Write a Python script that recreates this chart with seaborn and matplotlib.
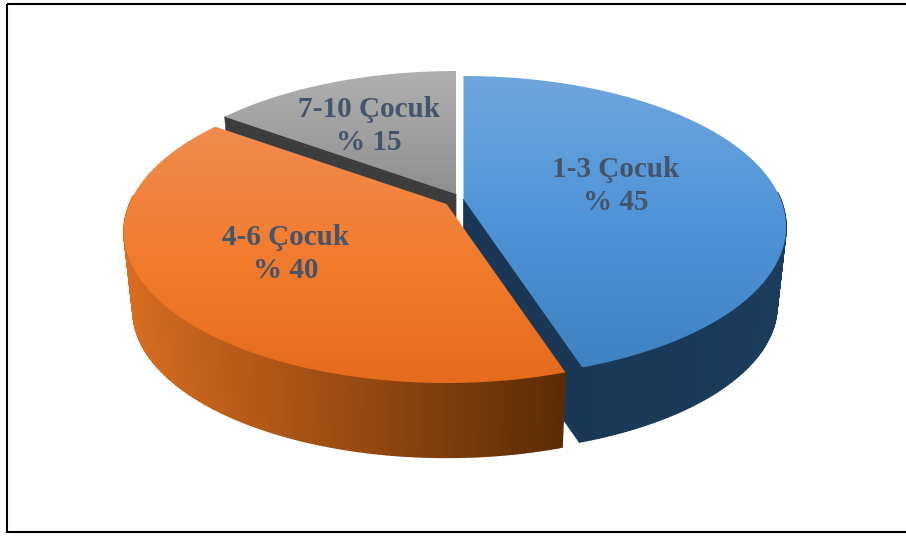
import numpy as np
import matplotlib
matplotlib.use("Agg")
import matplotlib.pyplot as plt
from matplotlib.collections import PolyCollection
from matplotlib.colors import LinearSegmentedColormap
from matplotlib.patches import Polygon, Rectangle
import seaborn as sns

# --- data ---
categories = ["1-3 Çocuk", "4-6 Çocuk", "7-10 Çocuk"]
shares = [45, 40, 15]
share_labels = ["% 45", "% 40", "% 15"]

# --- style and layout ---
apex_px = [(463.5, 199), (446.5, 204), (456, 194)]
label_px = [(616, 186), (286, 254), (369, 126)]
face_stops = [["#70a6dd", "#4f94d8", "#3f82c2"],
              ["#f08c50", "#f27c2e", "#e66b1c"],
              ["#b0b0b0", "#a0a0a0", "#8e8e8e"]]
wall_left = ["#1c3c5c", "#d86c20", "#404040"]
wall_right = ["#1a3856", "#5c2c05", "#404040"]
cut_wall = ["#1a3856", None, "#3d3d3d"]
text_color = "#44546a"
A, B, K = 317.0, 145.8, 0.1854   # projected radius and perspective of the disc
DEPTH, SHRINK = 79.5, 0.972      # thickness and foreshortening of the lower rim

sns.set_theme(style="white")
plt.rcParams["font.family"] = ["Liberation Serif", "DejaVu Serif"]


def project(theta, radius, apex):
    """theta: clockwise from 12 o'clock; perspective projection of the top disc."""
    X, Y = radius * np.sin(theta), radius * np.cos(theta)
    w = 1 + K * Y
    return apex[0] + A * X / w, apex[1] - B * Y / w


def lower(x, y, apex):
    return apex[0] + (x - apex[0]) * SHRINK, apex[1] + (y - apex[1]) * SHRINK + DEPTH


fig = plt.figure(figsize=(9.06, 5.36), dpi=100, facecolor="white")
ax = fig.add_axes([0, 0, 1, 1])
ax.set_xlim(0, 906)
ax.set_ylim(536, 0)
ax.axis("off")

ax.add_patch(Rectangle((7, 3.5), 1000, 528.5, fill=False, ec="black", lw=1.5, zorder=0))

edges = np.cumsum([0] + shares) / np.sum(shares) * 2 * np.pi
gradient = np.linspace(0, 1, 256)[:, None]

for layer, i in enumerate([2, 0, 1]):
    z = 10 + layer * 10
    apex = apex_px[i]
    t0, t1 = edges[i], edges[i + 1]
    theta = np.linspace(t0, t1, 240)
    x, y = project(theta, 1.0, apex)
    xb, yb = lower(x, y, apex)

    # outer rim, one quad per arc step, only on the side facing the viewer
    ramp = LinearSegmentedColormap.from_list(
        "wall", sns.blend_palette([wall_left[i], wall_right[i]], 32))
    span = np.clip((x - 123) / (565 - 123), 0, 1) if i == 1 else np.clip((x - 580) / 200, 0, 1)
    quads, cols = [], []
    for j in range(len(x) - 1):
        if np.cos(theta[j]) < 0.05:
            quads.append([(x[j], y[j]), (x[j + 1], y[j + 1]), (xb[j + 1], yb[j + 1]), (xb[j], yb[j])])
            cols.append(ramp(1 - span[j] if i == 0 else span[j]))
    if quads:
        ax.add_collection(PolyCollection(quads, facecolors=cols, edgecolors=cols,
                                         linewidths=1.0, zorder=z))

    # radial cut wall where it faces the viewer
    if cut_wall[i] is not None:
        t = t1 if i == 0 else t0
        ex, ey = project(t, 1.0, apex)
        bx, by = lower(ex, ey, apex)
        ax0, ay0 = lower(apex[0], apex[1], apex)
        ax.add_patch(Polygon([apex, (ex, ey), (bx, by), (ax0, ay0)],
                             fc=cut_wall[i], ec=cut_wall[i], lw=0.5, zorder=z + 1))

    # top face with a vertical gradient clipped to the slice
    face = Polygon(np.r_[[apex], np.c_[x, y]], closed=True, fc="none", ec="none")
    ax.add_patch(face)
    cmap = LinearSegmentedColormap.from_list(
        "face", sns.blend_palette(face_stops[i], 64))
    img = ax.imshow(gradient, cmap=cmap, aspect="auto", zorder=z + 2,
                    extent=[x.min() - 2, x.max() + 2, max(y.max(), apex[1]) + 2, y.min() - 2],
                    interpolation="bilinear")
    img.set_clip_path(face)

ax.set_xlim(0, 906)
ax.set_ylim(536, 0)

for cat, lab, (lx, ly) in zip(categories, share_labels, label_px):
    ax.text(lx, ly, f"{cat}\n{lab}", ha="center", va="center", multialignment="center",
            fontsize=21, fontweight="bold", color=text_color, linespacing=1.32, zorder=100)

fig.savefig("out.png", dpi=100, facecolor="white")
